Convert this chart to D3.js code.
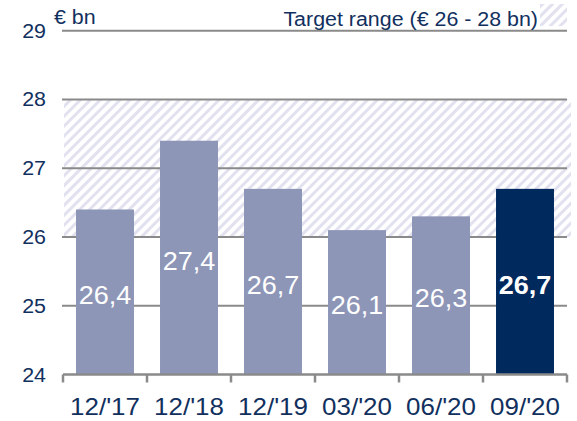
<!DOCTYPE html>
<html>
<head>
<meta charset="utf-8">
<script src="https://cdn.jsdelivr.net/npm/d3@7"></script>
<style>
  body { margin: 0; background: #fff; }
  text { font-family: "Liberation Sans", Arial, sans-serif; }
</style>
</head>
<body>
<div class="chart"></div>
<script>
// data
const periods = ["12/'17", "12/'18", "12/'19", "03/'20", "06/'20", "09/'20"]
const values = [26.4, 27.4, 26.7, 26.1, 26.3, 26.7]
const yTicks = [24, 25, 26, 27, 28, 29]
const targetRange = [26, 28]
const unitLabel = "€ bn"
const legendLabel = "Target range (€ 26 - 28 bn)"

const width = 577
const height = 421
const textNavy = "#12305e"
const barLight = "#8e96b8"
const barDark = "#00295e"
const gridGrey = "#8a8a8a"

// text in the reference is slightly wider than Arial
function stretch(sel, k) {
    sel.each(function () {
        const w = this.getComputedTextLength()
        d3.select(this)
            .attr("textLength", w * k)
            .attr("lengthAdjust", "spacingAndGlyphs")
    })
}

const x = d3.scaleBand()
    .domain(periods)
    .range([63, 567])
    .paddingInner(0.31)
    .paddingOuter(0.155)

const y = d3.scaleLinear()
    .domain([24, 29])
    .range([374.5, 30.7])

const svg = d3.select(".chart")
    .append("svg")
    .attr("width", width)
    .attr("height", height)

// hatch pattern for target range
const defs = svg.append("defs")
const pat = defs.append("pattern")
    .attr("id", "hatch")
    .attr("patternUnits", "userSpaceOnUse")
    .attr("width", 7)
    .attr("height", 7)
    .attr("patternTransform", "rotate(45)")
pat.append("rect")
    .attr("width", 7).attr("height", 7)
    .attr("fill", "#fff")
pat.append("rect")
    .attr("x", 0).attr("y", 0)
    .attr("width", 3)
    .attr("height", 7)
    .attr("fill", "#e1e1ef")

svg.append("rect")
    .attr("x", 64)
    .attr("y", y(targetRange[1]))
    .attr("width", 571 - 64)
    .attr("height", y(targetRange[0]) - y(targetRange[1]))
    .attr("fill", "url(#hatch)")

// legend swatch
svg.append("rect")
    .attr("x", 540)
    .attr("y", 4)
    .attr("width", 27)
    .attr("height", 22)
    .attr("fill", "url(#hatch)")

// gridlines
svg.selectAll("line.grid")
    .data(yTicks.filter(d => d > 24))
    .join("line")
    .attr("class", "grid")
    .attr("x1", 62)
    .attr("x2", 567)
    .attr("y1", d => y(d))
    .attr("y2", d => y(d))
    .attr("stroke", gridGrey)
    .attr("stroke-width", 2)

// y tick labels
const yLab = svg.selectAll("text.ytick")
    .data(yTicks)
    .join("text")
    .attr("class", "ytick")
    .attr("x", 46)
    .attr("y", d => y(d) + 7)
    .attr("text-anchor", "end")
    .attr("font-size", 20)
    .attr("fill", textNavy)
    .text(d => d)
stretch(yLab, 1.07)

// bars
svg.selectAll("rect.bar")
    .data(periods)
    .join("rect")
    .attr("class", "bar")
    .attr("x", d => x(d))
    .attr("width", x.bandwidth())
    .attr("y", (d, i) => y(values[i]))
    .attr("height", (d, i) => y(24) - y(values[i]))
    .attr("fill", (d, i) => i === periods.length - 1 ? barDark : barLight)

// value labels inside bars
const fmt = v => v.toFixed(1).replace(".", ",")
const vLab = svg.selectAll("text.val")
    .data(periods)
    .join("text")
    .attr("class", "val")
    .attr("x", d => x(d) + x.bandwidth() / 2)
    .attr("y", (d, i) => (y(values[i]) + y(24)) / 2 + 12)
    .attr("text-anchor", "middle")
    .attr("font-size", 25)
    .attr("font-weight", (d, i) => i === periods.length - 1 ? "bold" : "normal")
    .attr("fill", "#fff")
    .text((d, i) => fmt(values[i]))
stretch(vLab, 1.08)

// x axis line with ticks at band edges
const x0 = x.range()[0]
svg.append("line")
    .attr("x1", x0)
    .attr("x2", x.range()[1])
    .attr("y1", y(24))
    .attr("y2", y(24))
    .attr("stroke", gridGrey)
    .attr("stroke-width", 2.5)

svg.selectAll("line.xtick")
    .data(d3.range(periods.length + 1))
    .join("line")
    .attr("class", "xtick")
    .attr("x1", i => x0 + i * x.step())
    .attr("x2", i => x0 + i * x.step())
    .attr("y1", y(24))
    .attr("y2", y(24) + 8)
    .attr("stroke", gridGrey)
    .attr("stroke-width", 2.5)

const xLab = svg.selectAll("text.xlab")
    .data(periods)
    .join("text")
    .attr("class", "xlab")
    .attr("x", d => x(d) + x.bandwidth() / 2)
    .attr("y", 415)
    .attr("text-anchor", "middle")
    .attr("font-size", 24)
    .attr("fill", textNavy)
    .text(d => d)
stretch(xLab, 1.08)

// unit and legend text
const unit = svg.append("text")
    .attr("x", 54)
    .attr("y", 24)
    .attr("font-size", 20)
    .attr("fill", textNavy)
    .text(unitLabel)
stretch(unit, 1.07)

const leg = svg.append("text")
    .attr("x", 538)
    .attr("y", 26)
    .attr("text-anchor", "end")
    .attr("font-size", 20)
    .attr("fill", textNavy)
    .text(legendLabel)
stretch(leg, 1.07)
</script>
</body>
</html>
